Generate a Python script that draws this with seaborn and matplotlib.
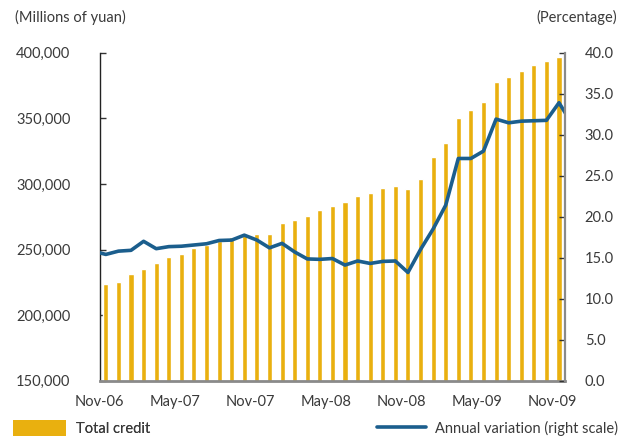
import numpy as np
import pandas as pd
import matplotlib
matplotlib.use("Agg")
import matplotlib.pyplot as plt
from matplotlib.patches import Patch
from matplotlib.lines import Line2D
from matplotlib.ticker import FuncFormatter
import seaborn as sns

# Month-end stock of total credit, Nov-2006 to Nov-2009 (millions of yuan)
credit_months = pd.date_range("2006-11-01", "2009-11-01", freq="MS").strftime("%Y-%m").tolist()
total_credit = [
    223700, 225200, 231300, 235100, 239700, 244300, 246600, 251100, 253400, 256500,
    259300, 261800, 261800, 261800, 270200, 272500, 275500, 280100, 283200, 286200,
    290800, 293100, 296900, 298400, 296100, 303700, 320500, 331200, 350200, 356300,
    362400, 377700, 381500, 386100, 390600, 393700, 396700,
]

# Year-on-year variation (%), Oct-2006 to Dec-2009
variation_months = pd.date_range("2006-10-01", "2009-12-01", freq="MS").strftime("%Y-%m").tolist()
annual_variation = [
    15.8,
    15.4, 15.8, 15.9, 17.0, 16.1, 16.35, 16.4, 16.55, 16.7, 17.1,
    17.15, 17.75, 17.15, 16.2, 16.75, 15.7, 14.85, 14.8, 14.9, 14.1,
    14.6, 14.3, 14.55, 14.6, 13.2, 16.0, 18.5, 21.4, 27.1, 27.1,
    28.0, 31.9, 31.45, 31.65, 31.7, 31.75, 33.9,
    31.4,
]

tick_labels = ["Nov-06", "May-07", "Nov-07", "May-08", "Nov-08", "May-09", "Nov-09"]
left_ticks = [150000, 200000, 250000, 300000, 350000, 400000]
right_ticks = [0, 5, 10, 15, 20, 25, 30, 35, 40]

BAR_COLOR = "#E9B00F"
LINE_COLOR = "#1B5E8D"
TEXT_COLOR = "#3a3a3a"
FS = 10.5

sns.set_theme(style="white")
plt.rcParams["font.family"] = ["Lato", "DejaVu Sans"]
plt.rcParams["text.color"] = TEXT_COLOR

fig = plt.figure(figsize=(6.3, 4.38), dpi=100)
ax = fig.add_axes([0.158, 0.1308, 0.7393, 0.7489])

credit_df = pd.DataFrame({"month": credit_months, "credit": total_credit})
sns.barplot(data=credit_df, x="month", y="credit", order=credit_months,
            color=BAR_COLOR, saturation=1, width=0.4, ax=ax)

ax2 = ax.twinx()
pos = {m: i for i, m in enumerate(credit_months)}
start = pos[credit_months[0]] - variation_months.index(credit_months[0])
var_df = pd.DataFrame({"x": np.arange(len(variation_months)) + start,
                       "variation": annual_variation})
sns.lineplot(data=var_df, x="x", y="variation", color=LINE_COLOR,
             linewidth=2.6, ax=ax2, legend=False)

n = len(credit_months)
ax.set_xlim(-0.5, n - 0.5)
ax2.set_xlim(-0.5, n - 0.5)
ax.set_ylim(left_ticks[0], left_ticks[-1])
ax2.set_ylim(right_ticks[0], right_ticks[-1])

tick_pos = [-0.5 + 6 * k for k in range(len(tick_labels))]
ax.set_xticks(tick_pos)
ax.set_xticklabels(tick_labels)
ax.set_yticks(left_ticks)
ax.yaxis.set_major_formatter(FuncFormatter(lambda v, _: f"{int(v):,}"))
ax2.set_yticks(right_ticks)
ax2.yaxis.set_major_formatter(FuncFormatter(lambda v, _: f"{v:.1f}"))

ax.set_xlabel("")
ax.set_ylabel("")
ax2.set_xlabel("")
ax2.set_ylabel("")

ax.tick_params(axis="x", direction="in", length=5, width=1, color="#333333",
               pad=10, labelsize=FS, labelcolor=TEXT_COLOR)
ax.tick_params(axis="y", direction="in", length=4, width=1, color="#333333",
               pad=21, labelsize=FS, labelcolor=TEXT_COLOR)
ax2.tick_params(axis="y", direction="in", length=4, width=1, color="#333333",
                pad=14, labelsize=FS, labelcolor=TEXT_COLOR)

for a in (ax, ax2):
    a.spines["top"].set_visible(False)
    a.grid(False)
ax2.spines["left"].set_visible(False)
ax2.spines["bottom"].set_visible(False)
ax.spines["right"].set_visible(False)
ax.spines["left"].set_color("#222222")
ax.spines["left"].set_linewidth(1.0)
ax.spines["bottom"].set_color("#8a8a8a")
ax.spines["bottom"].set_linewidth(2.0)
ax2.spines["right"].set_color("#8a8a8a")
ax2.spines["right"].set_linewidth(1.6)

fig.text(15 / 630, 1 - 17 / 438, "(Millions of yuan)", ha="left", va="center",
         fontsize=FS, color=TEXT_COLOR)
fig.text(617 / 630, 1 - 17 / 438, "(Percentage)", ha="right", va="center",
         fontsize=FS, color=TEXT_COLOR)

bar_handle = Patch(facecolor=BAR_COLOR, edgecolor="none")
line_handle = Line2D([], [], color=LINE_COLOR, linewidth=2.6)
leg1 = fig.legend([bar_handle], ["Total credit"], loc="center left",
                  bbox_to_anchor=(13 / 630, 1 - 428 / 438), frameon=False,
                  fontsize=FS, handlelength=3.6, handleheight=1.25,
                  handletextpad=0.7, borderpad=0, borderaxespad=0)
leg2 = fig.legend([line_handle], ["Annual variation (right scale)"], loc="center right",
                  bbox_to_anchor=(618 / 630, 1 - 428 / 438), frameon=False,
                  fontsize=FS, handlelength=3.4, handletextpad=0.6,
                  borderpad=0, borderaxespad=0)
fig.add_artist(leg1)

fig.savefig("out.png", dpi=100)
